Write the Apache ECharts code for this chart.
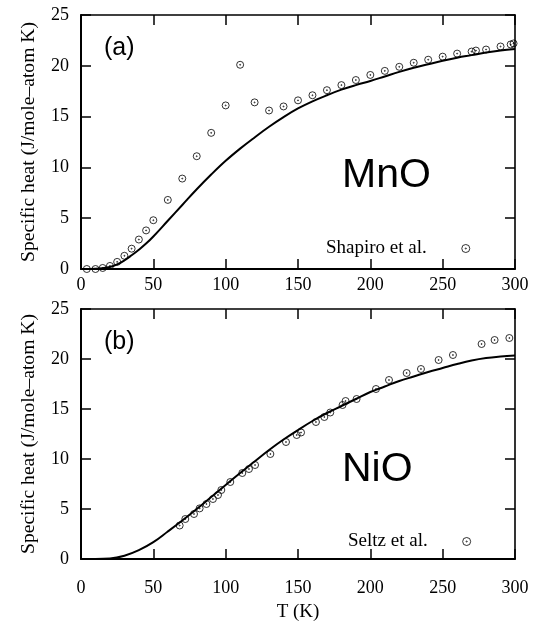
<!DOCTYPE html>
<html><head><meta charset="utf-8">
<script src="https://cdn.jsdelivr.net/npm/echarts@6/dist/echarts.min.js"></script>
<style>html,body{margin:0;padding:0;background:#fff}#c{width:546px;height:623px}</style>
</head><body><div id="c"></div>
<script>
// MnO experimental (Shapiro et al.)
const mnoT = [4,10,15,20,25,30,35,40,45,50,60,70,80,90,100,110,120,130,140,150,160,170,180,190,200,210,220,230,240,250,260,270,273,280,290,297,299];
const mnoC = [0,0,0.1,0.3,0.7,1.3,2.0,2.9,3.8,4.8,6.8,8.9,11.1,13.4,16.1,20.1,16.4,15.6,16.0,16.6,17.1,17.6,18.1,18.6,19.1,19.5,19.9,20.3,20.6,20.9,21.2,21.4,21.5,21.6,21.9,22.1,22.2];
// MnO calculated curve
const mnoCurveT = [0,10,20,25,30,35,40,45,50,60,70,80,90,100,110,120,130,140,150,160,170,180,190,200,210,220,230,240,250,260,270,280,290,300];
const mnoCurveC = [0,0.02,0.2,0.45,0.85,1.35,1.9,2.5,3.2,4.75,6.3,7.85,9.3,10.65,11.85,12.95,14.0,14.95,15.8,16.5,17.1,17.65,18.1,18.5,18.95,19.4,19.8,20.15,20.5,20.8,21.05,21.3,21.5,21.65];
// NiO experimental (Seltz et al.)
const nioT = [68.2,72.1,78.1,82,86.7,91.2,94.7,97,103.2,111.5,116.1,120.3,130.9,141.7,149.1,152.1,162.4,168.2,172.3,180.8,182.9,190.5,203.9,212.9,225.1,235,247.2,257.1,276.9,285.9,296.1];
const nioC = [3.35,4.0,4.5,5.06,5.5,6.0,6.4,6.9,7.7,8.6,9.0,9.4,10.5,11.7,12.4,12.65,13.7,14.2,14.65,15.4,15.8,16.0,17.0,17.9,18.6,19.0,19.9,20.4,21.5,21.9,22.1];
// NiO calculated curve
const nioCurveT = [0,10,20,30,40,50,60,70,80,90,100,110,120,130,140,150,160,170,180,190,200,210,220,230,240,250,260,270,280,290,300];
const nioCurveC = [0,0,0.04,0.32,0.88,1.68,2.75,3.85,5.0,6.2,7.4,8.6,9.75,10.9,11.95,12.9,13.8,14.6,15.3,16.0,16.7,17.25,17.8,18.25,18.7,19.1,19.5,19.85,20.1,20.25,20.35];
const xTicks = {min:0, max:300, interval:50};
const yTicks = {min:0, max:25, interval:5};
const panelLabels = ['(a)','(b)'];
const compounds = ['MnO','NiO'];
const legendNames = ['Shapiro et al.','Seltz et al.'];

const zip = (a,b) => a.map((v,i)=>[v,b[i]]);
const serif = 'Liberation Serif';
const sans = 'Liberation Sans';
const ringPath = 'path://M0,-3.5A3.5,3.5,0,1,1,0,3.5A3.5,3.5,0,1,1,0,-3.5ZM0,-0.5A0.5,0.5,0,1,1,0,0.5A0.5,0.5,0,1,1,0,-0.5Z';

const chart = echarts.init(document.getElementById('c'), null, {renderer:'canvas'});
const grids = [{left:81, top:15, width:434, height:254},{left:81, top:309, width:434, height:254}];
const axLine = (w) => ({show:true, onZero:false, lineStyle:{color:'#000', width:w}});
const tick = () => ({show:true, inside:true, length:10, lineStyle:{color:'#000', width:1.5}});
const xAxes = [], yAxes = [];
[0,1].forEach(g=>{
  xAxes.push({type:'value', gridIndex:g, position:'bottom', ...xTicks, axisLine:axLine(2), axisTick:tick(), splitLine:{show:false},
    axisLabel:{fontFamily:serif, fontSize:18, color:'#000', margin: g===0?7:20},
    name: g===1?'T (K)':'', nameLocation:'middle', nameGap:44, nameTextStyle:{fontFamily:serif, fontSize:19, color:'#000'}});
  xAxes.push({type:'value', gridIndex:g, position:'top', ...xTicks, axisLine:axLine(1.6), axisTick:tick(), splitLine:{show:false}, axisLabel:{show:false}});
  yAxes.push({type:'value', gridIndex:g, position:'left', ...yTicks, axisLine:axLine(2), axisTick:tick(), splitLine:{show:false},
    axisLabel:{fontFamily:serif, fontSize:18, color:'#000', margin:12},
    name:'Specific heat (J/mole\u2013atom K)', nameLocation:'middle', nameGap:42, nameRotate:90,
    nameTextStyle:{fontFamily:serif, fontSize:19.6, color:'#000'}});
  yAxes.push({type:'value', gridIndex:g, position:'right', ...yTicks, axisLine:axLine(1.6), axisTick:tick(), splitLine:{show:false}, axisLabel:{show:false}});
});
const expData = [zip(mnoT,mnoC), zip(nioT,nioC)];
const curveData = [zip(mnoCurveT,mnoCurveC), zip(nioCurveT,nioCurveC)];
const series = [];
[0,1].forEach(g=>{
  series.push({type:'line', name:compounds[g]+' calc', xAxisIndex:2*g, yAxisIndex:2*g, data:curveData[g], smooth:0.4,
    showSymbol:false, lineStyle:{color:'#000', width:2}, silent:true, z:2});
  series.push({type:'scatter', name:legendNames[g], xAxisIndex:2*g, yAxisIndex:2*g, data:expData[g], symbol:ringPath, symbolSize:7,
    itemStyle:{color:'transparent', borderColor:'#000', borderWidth:1}, z:3});
});
const legends = [0,1].map(g=>({
  data:[legendNames[g]], left:(g===0?326:348), top:(g===0?239:532), padding:0, align:'right', orient:'horizontal',
  itemWidth:68, itemHeight:8, selectedMode:false,
  itemStyle:{color:'transparent', borderColor:'#000', borderWidth:1},
  textStyle:{fontFamily:serif, fontSize:19, color:'#000'}
}));
const graphics = [];
[0,1].forEach(g=>{
  const top = grids[g].top;
  graphics.push({type:'text', left:104, top: top+21, style:{text:panelLabels[g], fontFamily:sans, fontSize:25, fill:'#000'}});
  graphics.push({type:'text', left:342, top: top+140, style:{text:compounds[g], fontFamily:sans, fontSize:41, fill:'#000'}});
});
chart.setOption({
  animation:false,
  backgroundColor:'#fff',
  grid:grids, xAxis:xAxes, yAxis:yAxes, series:series, legend:legends, graphic:graphics
});
</script></body></html>
